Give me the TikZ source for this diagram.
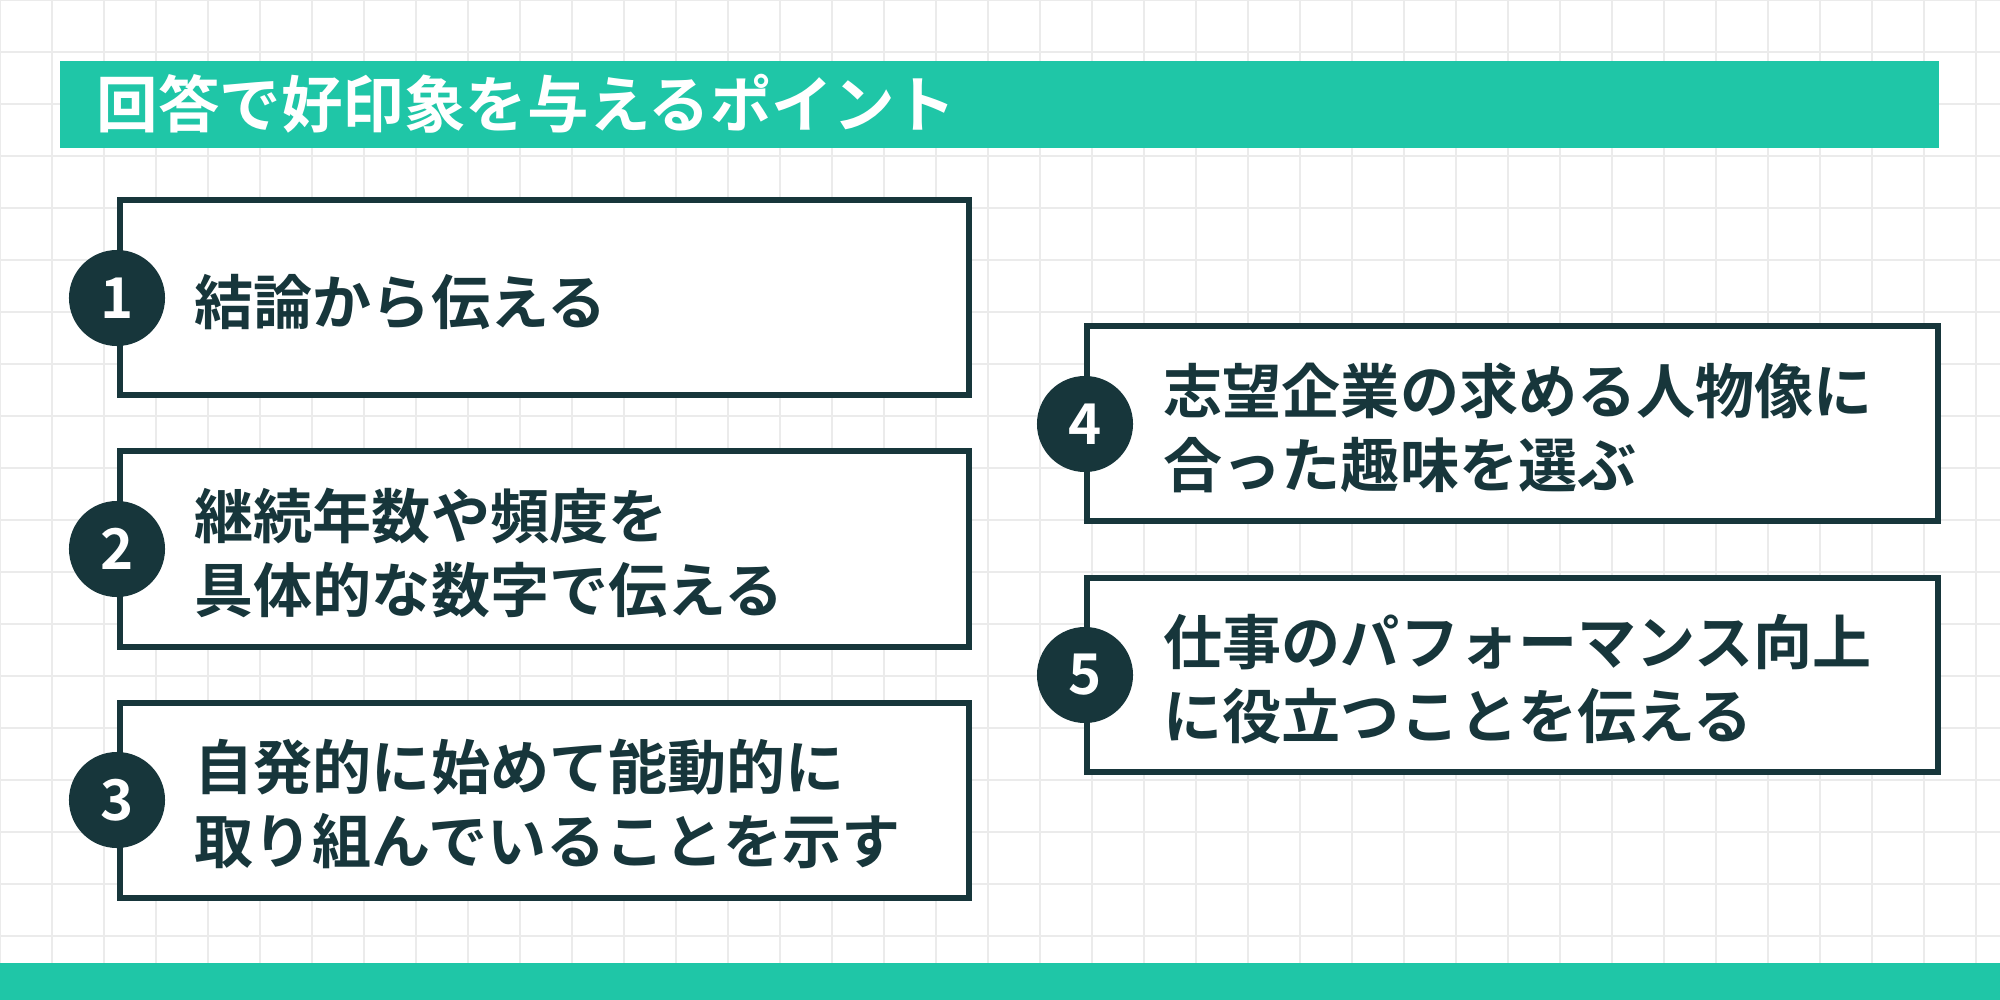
\documentclass[tikz,border=0pt]{standalone}
\usepackage{fontspec}
\setmainfont{Noto Sans CJK JP}[BoldFont={Noto Sans CJK JP Bold}]
\begin{document}
\begin{tikzpicture}[x=0.01cm,y=-0.01cm,
  box/.style={draw=dk,line width=1.8pt,fill=white},
  num/.style={circle,fill=dk,minimum size=0.96cm,inner sep=0,text=white,font=\bfseries\fontsize{16}{16}\selectfont},
  txt/.style={anchor=west,align=left,text=dk,font=\bfseries\fontsize{16.8}{21}\selectfont,inner sep=0}]
\definecolor{dk}{HTML}{17363B}
\definecolor{gr}{HTML}{1FC6A7}
\definecolor{gl}{HTML}{EBEBEB}
\useasboundingbox (0,0) rectangle (2000,1000);
\fill[white] (0,0) rectangle (2000,1000);
\foreach \x in {0,52,...,2000} \draw[gl,line width=0.5pt] (\x,0) -- (\x,1000);
\foreach \y in {0,52,...,1000} \draw[gl,line width=0.5pt] (0,\y) -- (2000,\y);
\fill[gr] (60,61) rectangle (1939,148);
\node[anchor=west,text=white,font=\bfseries\fontsize{17.5}{17.5}\selectfont,inner sep=0] (title) at (96,104) {回答で好印象を与えるポイント};
\fill[gr] (0,963) rectangle (2000,1000);
\draw[box] (120,200) rectangle (969,395);
\draw[box] (120,451) rectangle (969,647);
\draw[box] (120,703) rectangle (969,898);
\draw[box] (1087,326) rectangle (1938,521);
\draw[box] (1087,578) rectangle (1938,772);
\node[num] (n1) at (117,298) {1};
\node[num] (n2) at (117,549) {2};
\node[num] (n3) at (117,800) {3};
\node[num] (n4) at (1085,424) {4};
\node[num] (n5) at (1085,675) {5};
\node[txt] (t1) at (194,302) {結論から伝える};
\node[txt] (t2) at (194,553) {継続年数や頻度を\\具体的な数字で伝える};
\node[txt] (t3) at (194,804) {自発的に始めて能動的に\\取り組んでいることを示す};
\node[txt] (t4) at (1163,428) {志望企業の求める人物像に\\合った趣味を選ぶ};
\node[txt] (t5) at (1163,679) {仕事のパフォーマンス向上\\に役立つことを伝える};
\end{tikzpicture}
\end{document}
